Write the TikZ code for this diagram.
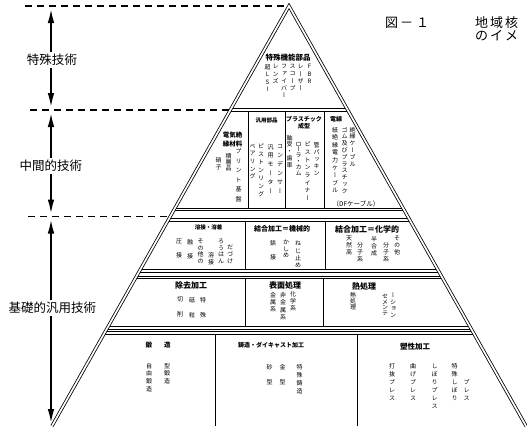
\documentclass[tikz,border=0pt]{standalone}
\usepackage{fontspec}
\usetikzlibrary{arrows.meta}
\newfontfamily\jp{Noto Sans CJK JP}
\newfontfamily\jpv[RawFeature=+vert]{Noto Sans CJK JP}
\tikzset{
  dl/.style={line width=0.8pt, double distance=1.7pt, double=white, line join=miter},
  divider/.style={line width=0.9pt},
  vc/.style={inner sep=0pt, outer sep=0pt, align=center, anchor=north, font=\jpv\fontsize{6}{#1}\selectfont},
  vc/.default=7,
  hd/.style={inner sep=0pt, align=center, font=\jp\bfseries\fontsize{#1}{#1}\selectfont},
  hd/.default=6.5,
  side/.style={fill=white, inner xsep=1pt, inner ysep=2pt, font=\jp\fontsize{12.5}{13}\selectfont},
  ttl/.style={inner sep=0pt, font=\jp\fontsize{13}{13}\selectfont, anchor=base west},
  guide/.style={line width=1.1pt, dash pattern=on 7pt off 5pt},
  span/.style={line width=2.4pt, {Latex[length=16pt,width=6.5pt]}-{Latex[length=16pt,width=6.5pt]}},
}
\begin{document}
\begin{tikzpicture}[x=1pt,y=-1pt]
\useasboundingbox (0,0) rectangle (527,426);

% ---- tier boundaries (clipped to the pyramid) ----
\begin{scope}
\clip (289,6) -- (52,426) -- (526,426) -- cycle;
\foreach \yy in {110,209.5,220,271,277.5,328,333}{
  \draw[dl] (40,\yy) -- (540,\yy);
}
\end{scope}
% dividers
\draw[divider] (248,111.5) -- (248,208) (285,111.5) -- (285,208) (324,111.5) -- (324,208);
\draw[divider] (245,221.5) -- (245,269.5) (325,221.5) -- (325,269.5);
\draw[divider] (245,279) -- (245,326.5) (323,279) -- (323,326.5);
\draw[divider] (215,334.5) -- (215,426) (357,334.5) -- (357,426);

% ---- outer pyramid ----
\coordinate (apex) at (289,6);
\coordinate (bl) at (52,426);
\coordinate (br) at (526,426);
\draw[dl] (bl) -- (apex) -- (br);

% ---- guide dashed lines ----
\coordinate (g0a) at (25,6);    \coordinate (g0b) at (286,6);
\coordinate (g1a) at (30,110);  \coordinate (g1b) at (231,110);
\coordinate (g2a) at (28,216.5);\coordinate (g2b) at (171,216.5);
\draw[guide] (g0a) -- (g0b);
\draw[guide] (g1a) -- (g1b);
\draw[guide] (g2a) -- (g2b);

% ---- span arrows ----
\coordinate (s0) at (51,7);
\coordinate (s1) at (51,109);
\coordinate (s2) at (51,111);
\coordinate (s3) at (51,215.5);
\coordinate (s4) at (51,217.5);
\coordinate (s5) at (51,425);
\draw[span] (s0) -- (s1);
\draw[span] (s2) -- (s3);
\draw[span] (s4) -- (s5);
\node[side] (lab1) at (52,60) {特殊技術};
\node[side] (lab2) at (51,166) {中間的技術};
\node[side] (lab3) at (52.5,308) {基礎的汎用技術};

% ---- title ----
\begin{scope}
\clip (0,0) rectangle (527,426);
\node[ttl] (fig) at (385,27) {図\hspace{2pt}－\hspace{3pt}１};
\node[ttl] (ttl1) at (475,27) {地\hspace{2pt}域\hspace{2pt}核};
\node[ttl] (ttl2) at (475,40) {の\hspace{2pt}イ\hspace{2pt}メ};
\end{scope}

% ---- tier 1 ----
\node[hd=7.5] (h1) at (288,58) {特殊機能部品};
\node[vc=7.3] (c11) at (267.5,64.5) {超\\L\\S\\I};
\node[vc=7.3] (c12) at (275.5,64.5) {レ\\ン\\ズ};
\node[vc=7.3] (c13) at (284,64.5) {フ\\ァ\\イ\\バ\\ー};
\node[vc=7.3] (c14) at (292.5,64.5) {ス\\コ\\ー\\プ};
\node[vc=7.3] (c15) at (300.5,64.5) {レ\\ー\\ザ\\ー};
\node[vc=7.3] (c16) at (309.5,64.5) {F\\B\\R};

% ---- tier 2 ----
\node[hd=6.5] (h21) at (232.5,139.5) {電気絶\\[3pt]縁材料};
\node[hd=5.5] (h22) at (266.5,120.5) {汎用部品};
\node[hd=6] (h23) at (304,122.5) {プラスチック\\[1pt]成型};
\node[hd=6] (h24) at (336,119.5) {電線};
\node[vc=9.5] (c21) at (238.5,149) {プ\\リ\\ン\\ト\\基\\盤};
\node[vc=6.2] (c22) at (228.5,153) {積\\層\\品};
\node[vc=7] (c23) at (218.5,157) {硝\\子};
\node[vc=7.6] (c24) at (252.5,144) {ベ\\ア\\リ\\ン\\グ};
\node[vc=8] (c25) at (261,144) {ピ\\ス\\ト\\ン\\リ\\ン\\グ};
\node[vc=8.8] (c26) at (270.5,144) {汎\\用\\モ\\ー\\タ\\ー};
\node[vc=9] (c27) at (280,144) {コ\\ン\\デ\\ン\\サ\\ー};
\node[vc=6.8] (c28) at (289.5,135) {軸\\受\\・\\歯\\車};
\node[vc=5.9] (c29) at (298.5,142) {ロ\\ー\\ラ\\・\\カ\\ム};
\node[vc=7.7] (c2a) at (307.5,142) {ピ\\ス\\ト\\ン\\ラ\\イ\\ナ\\ー};
\node[vc=7] (c2b) at (316.5,142) {管\\パ\\ッ\\キ\\ン};
\node[vc=7.6] (c2c) at (335,127) {紙\\絶\\縁\\電\\力\\ケ\\ー\\ブ\\ル};
\node[vc=6.8] (c2d) at (344.5,127) {ゴ\\ム\\及\\び\\プ\\ラ\\ス\\チ\\ッ\\ク};
\node[vc=6.8] (c2e) at (352.5,127) {絶\\縁\\ケ\\ー\\ブ\\ル};
\node[inner sep=0pt, font=\jp\fontsize{6.5}{7}\selectfont] (c2f) at (356,204.5) {（DFケーブル）};

% ---- tier 3 ----
\node[hd=5.5] (h31) at (208.5,227.5) {溶接・溶着};
\node[hd=7] (h32) at (282,229) {結合加工＝機械的};
\node[hd=8] (h33) at (367,229) {結合加工＝化学的};
\node[vc=14] (c31) at (179,239) {圧\\接};
\node[vc=14] (c32) at (190,239) {融\\接};
\node[vc=6.7] (c33) at (200.5,239) {そ\\の\\他\\の};
\node[vc=7] (c34) at (211,252) {溶\\接};
\node[vc=6.7] (c35) at (221,239) {ろ\\う\\は\\ん};
\node[vc=7] (c36) at (230,245) {だ\\づ\\け};
\node[vc=14] (c37) at (273,240) {鋲\\接};
\node[vc=6.5] (c38) at (286,240) {か\\し\\め};
\node[vc=7.3] (c39) at (298,241) {ね\\じ\\止\\め};
\node[vc=7] (c3a) at (349,236) {天\\然\\高};
\node[vc=7] (c3b) at (360,243) {分\\子\\系};
\node[vc=7] (c3c) at (374,236) {半\\合\\成};
\node[vc=7] (c3d) at (386,243) {分\\子\\系};
\node[vc=7] (c3e) at (397,236) {そ\\の\\他};

% ---- tier 4 ----
\node[hd=8] (h41) at (191,285) {除去加工};
\node[hd=8] (h42) at (285,285) {表面処理};
\node[hd=8] (h43) at (364,286) {熱処理};
\node[vc=15] (c41) at (180,297) {切\\削};
\node[vc=15] (c42) at (192,297) {砥\\粒};
\node[vc=15] (c43) at (203,297) {特\\殊};
\node[vc=7] (c44) at (273,292) {金\\属\\系};
\node[vc=7.5] (c45) at (283,292) {非\\金\\属\\系};
\node[vc=7] (c46) at (293,292) {化\\学\\系};
\node[vc=6] (c47) at (353,292) {熱\\処\\理};
\node[vc=5.5] (c48) at (385,294) {セ\\メ\\ン\\テ};
\node[vc=6.5] (c49) at (393,293) {ー\\シ\\ョ\\ン};

% ---- tier 5 ----
\node[hd=6.5] (h51) at (158,345.5) {鍛\hspace{12pt}造};
\node[hd=6] (h52) at (271,345.5) {鋳造・ダイキャスト加工};
\node[hd=7.5] (h53) at (415,346.5) {塑性加工};
\node[vc=7.7] (c51) at (149,363) {自\\由\\鍛\\造};
\node[vc=7.7] (c52) at (167,363) {型\\鍛\\造};
\node[vc=15] (c53) at (269.5,364.5) {砂\\型};
\node[vc=15] (c54) at (282.5,364.5) {金\\型};
\node[vc=8] (c55) at (299.5,364) {特\\殊\\鋳\\造};
\node[vc=8] (c56) at (392,363.5) {打\\抜\\プ\\レ\\ス};
\node[vc=8] (c57) at (413,363.5) {曲\\げ\\プ\\レ\\ス};
\node[vc=8] (c58) at (434.5,363.5) {し\\ぼ\\り\\プ\\レ\\ス};
\node[vc=8] (c59) at (454.5,363.5) {特\\殊\\し\\ぼ\\り};
\node[vc=8] (c5a) at (466.5,379.5) {プ\\レ\\ス};
\end{tikzpicture}
\end{document}
